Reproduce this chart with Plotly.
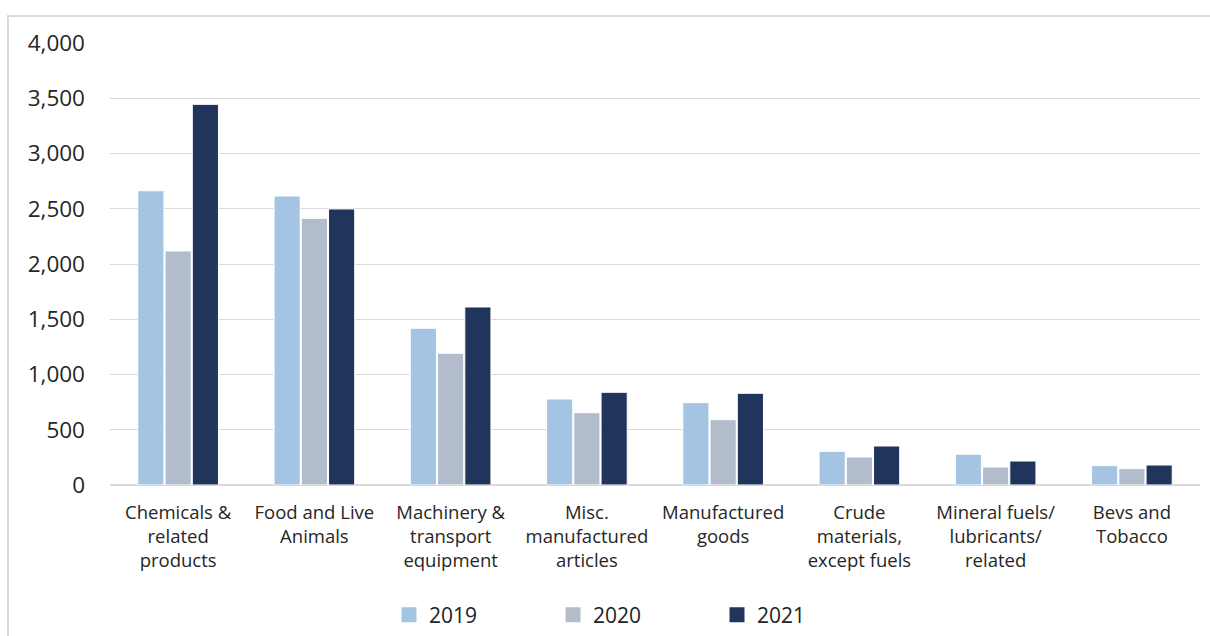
import plotly.graph_objects as go

categories = ["Chemicals &<br>related<br>products", "Food and Live<br>Animals",
              "Machinery &<br>transport<br>equipment", "Misc.<br>manufactured<br>articles",
              "Manufactured<br>goods", "Crude<br>materials,<br>except fuels",
              "Mineral fuels/<br>lubricants/<br>related", "Bevs and<br>Tobacco"]
v2019 = [2663, 2615, 1418, 778, 745, 305, 278, 175]
v2020 = [2118, 2413, 1192, 654, 591, 253, 163, 148]
v2021 = [3445, 2498, 1611, 839, 830, 353, 217, 181]
series_names = ["2019", "2020", "2021"]
colors = ["#A3C4E2", "#B2BCCB", "#21345C"]

W, H = 1210, 636
L, R, T, B = 110, 10, 43, 151

fig = go.Figure()
for name, vals, c in zip(series_names, [v2019, v2020, v2021], colors):
    fig.add_trace(go.Bar(x=categories, y=vals, name=name, showlegend=False,
                         marker=dict(color=c, line=dict(color="white", width=1))))
# legend entries with larger square swatches
for name, c in zip(series_names, colors):
    fig.add_trace(go.Scatter(x=[None], y=[None], mode="markers", name=name,
                             marker=dict(symbol="square", size=15, color=c)))

pw, ph = W - L - R, H - T - B
fig.add_shape(type="rect", xref="paper", yref="paper",
              x0=(8 - L) / pw, x1=(W + 20 - L) / pw,
              y0=(H - B - 700) / ph, y1=(H - B - 16) / ph,
              line=dict(color="#d9d9d9", width=2), layer="below")

fig.update_layout(
    width=W, height=H,
    margin=dict(l=L, r=R, t=T, b=B, autoexpand=False),
    paper_bgcolor="white", plot_bgcolor="white",
    barmode="group", bargap=0.4, bargroupgap=0.04,
    font=dict(family="Open Sans", color="#262626"),
    showlegend=True,
    legend=dict(orientation="h", xref="container", yref="container",
                x=389 / W, xanchor="left",
                y=(H - 615) / H, yanchor="middle",
                font=dict(size=21, color="#222"), entrywidth=119,
                traceorder="normal", itemsizing="trace"),
    xaxis=dict(tickfont=dict(size=18.5), showgrid=False, showline=False,
               ticks="", ticklabelstandoff=14, automargin=False),
    yaxis=dict(range=[0, 4000], dtick=500, tickformat=",",
               tickfont=dict(size=22.5), gridcolor="#d9d9d9", gridwidth=1.3,
               zeroline=True, zerolinecolor="#d9d9d9", zerolinewidth=2,
               showline=False, ticks="", ticklabelstandoff=24, automargin=False),
)

fig.write_html("out.html", config={"displayModeBar": False},
               post_script="document.body.style.margin='0';")
